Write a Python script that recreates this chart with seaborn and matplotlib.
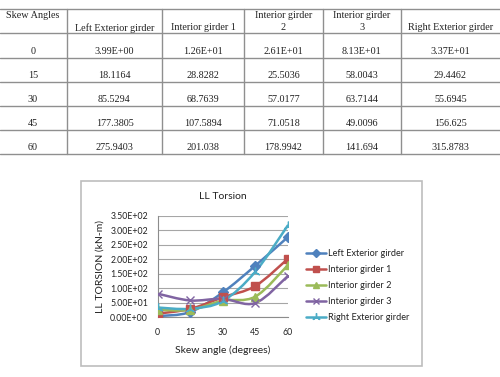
import numpy as np
import pandas as pd
import matplotlib
matplotlib.use("Agg")
import matplotlib.pyplot as plt
import seaborn as sns
from matplotlib.lines import Line2D
from matplotlib.path import Path
from matplotlib.patches import PathPatch, Rectangle
from matplotlib.ticker import FuncFormatter

# ---------------- data ----------------
skew_angles = [0, 15, 30, 45, 60]
series_names = ["Left Exterior girder", "Interior girder 1", "Interior girder 2",
                "Interior girder 3", "Right Exterior girder"]
left_exterior = [3.99, 18.1164, 85.5294, 177.3805, 275.9403]
interior_1 = [12.6, 28.8282, 68.7639, 107.5894, 201.038]
interior_2 = [26.1, 25.5036, 57.0177, 71.0518, 178.9942]
interior_3 = [81.3, 58.0043, 63.7144, 49.0096, 141.694]
right_exterior = [33.7, 29.4462, 55.6945, 156.625, 315.8783]
table_headers = ["Skew Angles", "Left Exterior girder", "Interior girder 1",
                 "Interior girder\n2", "Interior girder\n3", "Right Exterior girder"]
y_ticks = [0, 50, 100, 150, 200, 250, 300, 350]
x_ticks = [0, 15, 30, 45, 60]

series_values = [left_exterior, interior_1, interior_2, interior_3, right_exterior]
colors = ["#4F81BD", "#C0504D", "#9BBB59", "#8064A2", "#4BACC6"]
markers = ["D", "s", "^", "x", (3, 2, 0)]
msizes = [5, 6, 6, 6, 7]

df = pd.DataFrame({
    "angle": np.tile(skew_angles, len(series_names)),
    "value": np.concatenate(series_values),
    "series": np.repeat(series_names, len(skew_angles)),
})

W, H = 500, 377
sns.set_theme(style="white")
plt.rcParams["font.family"] = ["Lato", "DejaVu Sans"]
fig = plt.figure(figsize=(W / 100, H / 100), dpi=100)


def fx(px):
    return px / W


def fy(py):
    return 1 - py / H


# ---------------- table ----------------
tbl_color = "#8f8f8f"
row_lines = [9, 33, 58, 82, 106, 130, 154]
col_lines = [67, 162, 244, 323, 401]
col_edges = [0, 67, 162, 244, 323, 401, 500]
for yl in row_lines:
    fig.add_artist(Line2D([0, 1], [fy(yl), fy(yl)], color=tbl_color, lw=1.0,
                          transform=fig.transFigure))
for xl in col_lines:
    fig.add_artist(Line2D([fx(xl), fx(xl)], [fy(row_lines[0]), fy(row_lines[-1])],
                          color=tbl_color, lw=1.0, transform=fig.transFigure))

tfont = dict(family=["Liberation Serif", "DejaVu Serif"], fontsize=7.3, color="#222222")
fig.text(fx(6), fy(16), table_headers[0], ha="left", va="center", **tfont)
for j, head in enumerate(table_headers[1:], start=1):
    cx = (col_edges[j] + col_edges[j + 1]) / 2
    if "\n" in head:
        a, b = head.split("\n")
        fig.text(fx(cx), fy(16), a, ha="center", va="center", **tfont)
        fig.text(fx(cx), fy(28), b, ha="center", va="center", **tfont)
    else:
        fig.text(fx(cx), fy(28), head, ha="center", va="center", **tfont)

row_text_y = [52, 76, 100, 124, 148]
for i, ang in enumerate(skew_angles):
    fig.text(fx(33), fy(row_text_y[i]), str(ang), ha="center", va="center", **tfont)
    for j, vals in enumerate(series_values, start=1):
        v = vals[i]
        s = f"{v:.2E}" if i == 0 else str(v)
        cx = (col_edges[j] + col_edges[j + 1]) / 2
        fig.text(fx(cx), fy(row_text_y[i]), s, ha="center", va="center", **tfont)

# ---------------- chart box ----------------
fig.add_artist(Rectangle((fx(81), fy(366)), fx(422) - fx(81), fy(181) - fy(366),
                         transform=fig.transFigure, fill=False,
                         edgecolor="#bdbdbd", lw=1.2))

# ---------------- chart ----------------
ax_l, ax_r, ax_t, ax_b = 157.7, 287.7, 215.7, 317.3
ax = fig.add_axes([fx(ax_l), fy(ax_b), (ax_r - ax_l) / W, (ax_b - ax_t) / H])


def smooth_path(xs, ys):
    pts = np.column_stack([xs, ys]).astype(float)
    n = len(pts)
    verts = [pts[0]]
    codes = [Path.MOVETO]
    for i in range(n - 1):
        p0 = pts[i - 1] if i > 0 else pts[i]
        p1 = pts[i]
        p2 = pts[i + 1]
        p3 = pts[i + 2] if i + 2 < n else pts[i + 1]
        c1 = p1 + (p2 - p0) / 6
        c2 = p2 - (p3 - p1) / 6
        verts += [c1, c2, p2]
        codes += [Path.CURVE4] * 3
    return Path(verts, codes)


for vals, c in zip(series_values, colors):
    ax.add_patch(PathPatch(smooth_path(skew_angles, vals), facecolor="none",
                           edgecolor=c, lw=1.8, zorder=2, capstyle="round"))

for name, c, m, ms in zip(series_names, colors, markers, msizes):
    sub = df[df["series"] == name]
    sns.lineplot(data=sub, x="angle", y="value", ax=ax, color=c, marker=m,
                 markersize=ms, linestyle="", markeredgecolor=c,
                 markeredgewidth=1.0, legend=False, zorder=3)

ax.set_xlim(0, 60)
ax.set_ylim(0, 350)
ax.set_xticks(x_ticks)
ax.set_yticks(y_ticks)
ax.yaxis.set_major_formatter(FuncFormatter(lambda v, p: f"{v:.2E}"))
ax.grid(axis="y", color="#a6a6a6", lw=0.8)
ax.grid(axis="x", visible=False)
for s in ["top", "right"]:
    ax.spines[s].set_visible(False)
for s in ["left", "bottom"]:
    ax.spines[s].set_color("#8c8c8c")
    ax.spines[s].set_linewidth(0.8)
ax.tick_params(axis="y", length=0, pad=7, labelsize=6.3, colors="#222222")
ax.tick_params(axis="x", length=0, pad=7.5, labelsize=6.3, colors="#222222")
ax.set_xlabel("Skew angle (degrees)", fontsize=7.5, color="#222222", labelpad=6)
ax.set_ylabel("LL TORSION (kN-m)", fontsize=7.5, color="#222222", labelpad=4)
ax.set_title("LL Torsion", fontsize=7.5, color="#222222", pad=12)
ax.set_axisbelow(True)

handles = [Line2D([0], [0], color=c, lw=1.8, marker=m, markersize=ms - 1,
                  markeredgecolor=c, markeredgewidth=1.0)
           for c, m, ms in zip(colors, markers, msizes)]
fig.legend(handles, series_names, loc="center left",
           bbox_to_anchor=(fx(306), fy(285.7)), frameon=False, fontsize=6.6,
           handlelength=2.2, handletextpad=0.15, labelspacing=0.75,
           borderaxespad=0, borderpad=0, labelcolor="#222222")

fig.savefig("out.png", dpi=100)
